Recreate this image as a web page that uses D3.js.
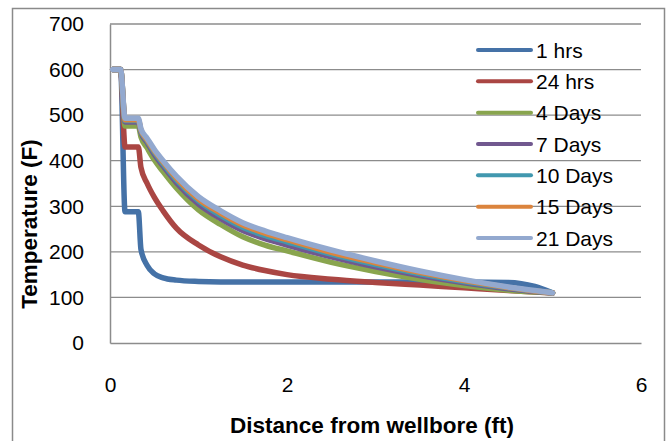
<!DOCTYPE html>
<html><head><meta charset="utf-8">
<script src="https://cdn.jsdelivr.net/npm/d3@7"></script>
<style>body{margin:0;background:#fff}svg{display:block;font-family:"Liberation Sans",Arial,sans-serif}</style>
</head><body><svg id="c" width="671" height="441"></svg>
<script>
const distance = [0.03,0.12,0.17,0.32,0.35,0.42,0.5,0.6,0.75,1.0,1.25,1.5,1.75,2.0,2.5,3.0,3.5,4.0,4.5,4.8,5.0];
const hrs1   = [600,600,288,288,205,170,152,143,138,135,134,134,134,134,134,134,134,134,133,124,110];
const hrs24  = [600,600,430,430,385,350,320,290,252,215,189,171,159,150,140,133,127,121,115,112,110];
const days4  = [600,600,476,476,452,428,402,376,340,292,260,233,215,202,177,157,140,126,116,112,110];
const days7  = [600,600,485,485,462,440,414,388,352,305,273,247,229,215,189,167,148,132,119,113,110];
const days10 = [600,600,488,488,465,444,419,393,358,312,280,254,236,222,195,172,152,135,121,114,110];
const days15 = [600,600,490,490,467,446,422,397,362,316,285,259,241,227,199,176,155,137,122,114,110];
const days21 = [600,600,493,493,470,449,425,400,366,321,290,264,246,231,204,180,158,139,123,115,110];
const seriesNames = ["1 hrs","24 hrs","4 Days","7 Days","10 Days","15 Days","21 Days"];
const seriesValues = [hrs1,hrs24,days4,days7,days10,days15,days21];
const colors = ["#4572A7","#AA4643","#89A54E","#71588F","#4198AF","#DB843D","#93A9CF"];
const xTicks = [0,2,4,6];
const yTicks = [0,100,200,300,400,500,600,700];

const svg = d3.select("#c");
const L=110,R=641,T=24,B=343;
const x = d3.scaleLinear().domain([0,6]).range([L,R]);
const y = d3.scaleLinear().domain([0,700]).range([B,T]);

svg.append("rect").attr("x",12.5).attr("y",8.5).attr("width",652).attr("height",445)
  .attr("fill","none").attr("stroke","#8a8a8a").attr("stroke-width",1.5);

// gridlines
svg.append("g").selectAll("line").data(yTicks.slice(1)).join("line")
  .attr("x1",L).attr("x2",R).attr("y1",d=>y(d)).attr("y2",d=>y(d))
  .attr("stroke","#8c8c8c").attr("stroke-width",1.3);

// axes
const yAxis = svg.append("g").attr("transform",`translate(${L},0)`)
  .call(d3.axisLeft(y).tickValues(yTicks).tickFormat(d3.format("d")).tickSize(0).tickPadding(26));
const xAxis = svg.append("g").attr("transform",`translate(0,${B})`)
  .call(d3.axisBottom(x).tickValues(xTicks).tickFormat(d3.format("d")).tickSize(0).tickPadding(34));
[yAxis,xAxis].forEach(a=>{
  a.select(".domain").attr("stroke","#8c8c8c").attr("stroke-width",1.5);
  a.selectAll("text").attr("font-size",21).attr("fill","#000").attr("font-family","Liberation Sans, Arial, sans-serif");
});

// lines
const line = d3.line().x((d,i)=>x(distance[i])).y(d=>y(d)).curve(d3.curveMonotoneX);
svg.append("g").selectAll("path").data(seriesValues).join("path")
  .attr("d",line).attr("fill","none")
  .attr("stroke",(d,i)=>colors[i]).attr("stroke-width",5.5)
  .attr("stroke-linejoin","round").attr("stroke-linecap","round");

// legend
const lg = svg.append("g");
seriesNames.forEach((n,i)=>{
  const cy = 50 + i*31.33;
  lg.append("line").attr("x1",478).attr("x2",531).attr("y1",cy).attr("y2",cy)
    .attr("stroke",colors[i]).attr("stroke-width",4).attr("stroke-linecap","round");
  lg.append("text").attr("x",536).attr("y",cy).attr("dy","0.36em")
    .attr("font-size",21).text(n);
});

// titles
svg.append("text").attr("x",372).attr("y",433).attr("text-anchor","middle")
  .attr("font-weight","bold").attr("font-size",22.5).text("Distance from wellbore (ft)");
svg.append("text").attr("transform","translate(37,224) rotate(-90)").attr("text-anchor","middle")
  .attr("font-weight","bold").attr("font-size",22.5).text("Temperature (F)");
</script></body></html>
